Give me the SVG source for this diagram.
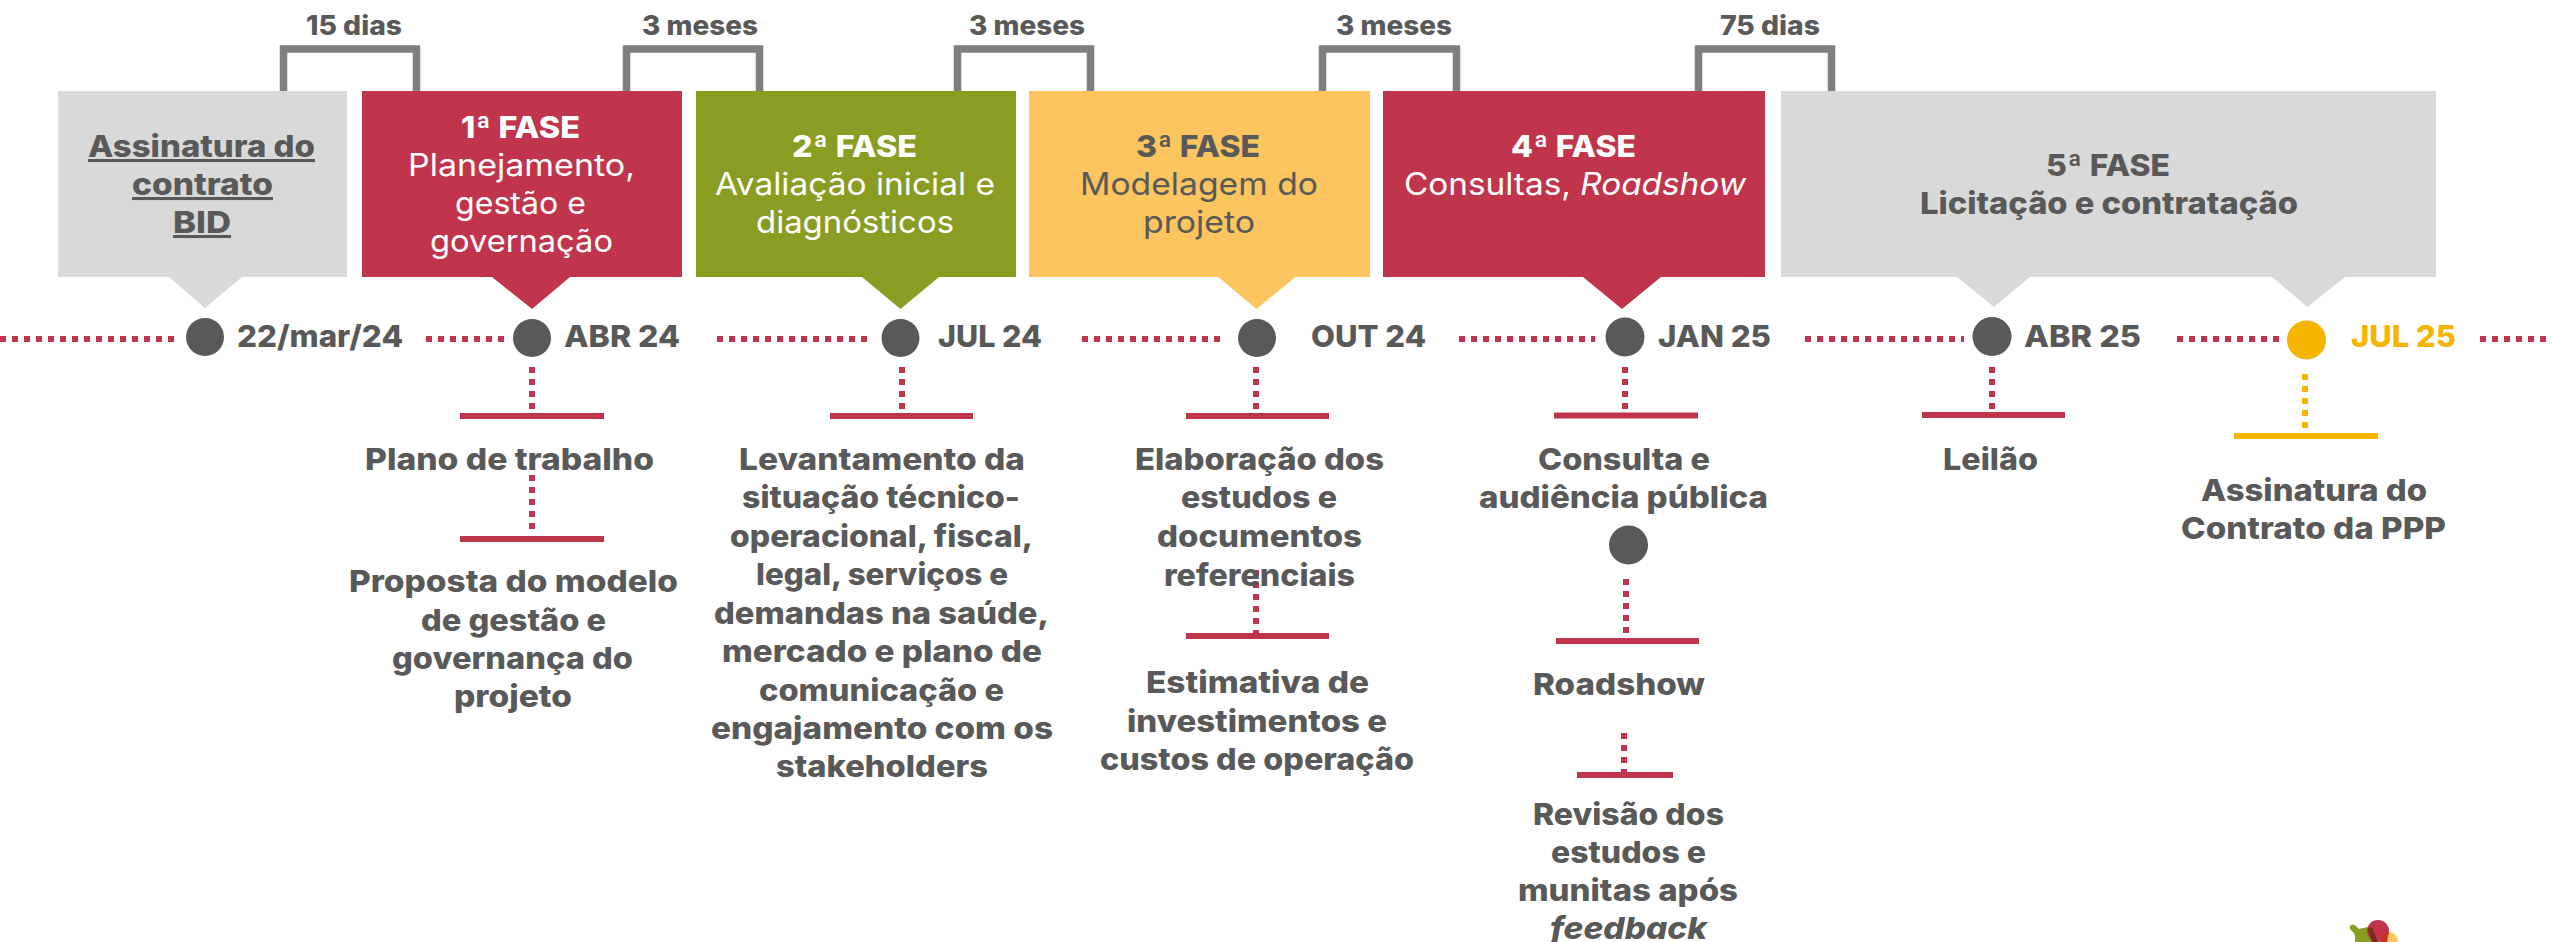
<svg xmlns="http://www.w3.org/2000/svg" width="2552" height="942" viewBox="0 0 2552 942">
<style>
text{font-family:"Inter","Liberation Sans",sans-serif;font-weight:800;fill:#595959;font-size:30.500px;text-anchor:middle}
.t{font-size:27px}
.r{font-weight:400;font-size:31px}
.w{fill:#fff}
.u{text-decoration:underline}
.y{fill:#f4b400}
.i{font-style:italic}
.br{fill:none;stroke:#7f7f7f;stroke-width:7.500}
.dot{fill:none;stroke:#c1354c;stroke-width:6;stroke-dasharray:6 6}
.doty{fill:none;stroke:#f4b400;stroke-width:6;stroke-dasharray:6 6}
.tee{fill:none;stroke:#c1354c;stroke-width:6}
.teey{fill:none;stroke:#f4b400;stroke-width:6}
.c{fill:#595959}
</style>
<g id="connectors">
<path class="br" d="M283.500 91V49H416.500V91"/>
<path class="br" d="M626.500 91V49H759.500V91"/>
<path class="br" d="M957.500 91V49H1090.500V91"/>
<path class="br" d="M1322.500 91V49H1456.500V91"/>
<path class="br" d="M1698.500 91V49H1831.500V91"/>
<path class="dot" d="M0 339H177"/>
<path class="dot" d="M426 339H504"/>
<path class="dot" d="M717 339H870"/>
<path class="dot" d="M1082 339H1223"/>
<path class="dot" d="M1459 339H1595"/>
<path class="dot" d="M1805 339H1964"/>
<path class="dot" d="M2177 339H2279"/>
<path class="dot" d="M2480 339H2552"/>
<path class="dot" d="M532 367V412"/><path class="tee" d="M460 416H604"/>
<path class="dot" d="M532 475V532"/><path class="tee" d="M460 539H604"/>
<path class="dot" d="M902 367V412"/><path class="tee" d="M830 416H973"/>
<path class="dot" d="M1256 367V410"/><path class="tee" d="M1186 416H1329"/>
<path class="dot" d="M1256 570V633"/><path class="tee" d="M1186 636H1329"/>
<path class="dot" d="M1625 367V412"/><path class="tee" d="M1554 415.500H1698"/>
<path class="dot" d="M1626 579V636"/><path class="tee" d="M1556 641H1699"/>
<path class="dot" d="M1624 733V775"/><path class="tee" d="M1577 775H1673"/>
<path class="dot" d="M1992 367V410"/><path class="tee" d="M1922 415H2065"/>
<path class="doty" d="M2305 374V430"/><path class="teey" d="M2234 436H2378"/>
</g>
<g id="label-15-dias"><text class="t" x="354" y="35" textLength="96" lengthAdjust="spacingAndGlyphs">15 dias</text></g>
<g id="label-3-meses-1"><text class="t" x="700" y="35" textLength="116" lengthAdjust="spacingAndGlyphs">3 meses</text></g>
<g id="label-3-meses-2"><text class="t" x="1027" y="35" textLength="116" lengthAdjust="spacingAndGlyphs">3 meses</text></g>
<g id="label-3-meses-3"><text class="t" x="1394" y="35" textLength="116" lengthAdjust="spacingAndGlyphs">3 meses</text></g>
<g id="label-75-dias"><text class="t" x="1770" y="35" textLength="100" lengthAdjust="spacingAndGlyphs">75 dias</text></g>

<g id="box-assinatura">
<path fill="#d9d9d9" d="M58 91H347V277H242L205 308L169 277H58Z"/>
<text class="u" x="201.500" y="157" textLength="227" lengthAdjust="spacingAndGlyphs">Assinatura do</text>
<text class="u" x="202.500" y="195" textLength="141" lengthAdjust="spacingAndGlyphs">contrato</text>
<text class="u" x="202" y="233" textLength="58" lengthAdjust="spacingAndGlyphs">BID</text>
</g>
<g id="box-fase1">
<path fill="#c1354c" d="M362 91H682V277H570L532 309L492 277H362Z"/>
<text class="w" x="520.500" y="138" textLength="119" lengthAdjust="spacingAndGlyphs">1ª FASE</text>
<text class="r w" x="521.500" y="176" textLength="227" lengthAdjust="spacingAndGlyphs">Planejamento,</text>
<text class="r w" x="520.500" y="214" textLength="131" lengthAdjust="spacingAndGlyphs">gestão e</text>
<text class="r w" x="521.500" y="252" textLength="183" lengthAdjust="spacingAndGlyphs">governação</text>
</g>
<g id="box-fase2">
<path fill="#8a9c22" d="M696 91H1016V277H939L900.500 309L862 277H696Z"/>
<text class="w" x="854.500" y="157" textLength="125" lengthAdjust="spacingAndGlyphs">2ª FASE</text>
<text class="r w" x="855" y="195" textLength="280" lengthAdjust="spacingAndGlyphs">Avaliação inicial e</text>
<text class="r w" x="855" y="233" textLength="198" lengthAdjust="spacingAndGlyphs">diagnósticos</text>
</g>
<g id="box-fase3">
<path fill="#fcc55f" d="M1029 91H1370V277H1295.500L1256.500 309L1218 277H1029Z"/>
<text x="1198" y="157" textLength="124" lengthAdjust="spacingAndGlyphs">3ª FASE</text>
<text class="r" x="1199" y="195" textLength="238" lengthAdjust="spacingAndGlyphs">Modelagem do</text>
<text class="r" x="1199" y="233" textLength="112" lengthAdjust="spacingAndGlyphs">projeto</text>
</g>
<g id="box-fase4">
<path fill="#c1354c" d="M1383 91H1765V277H1661L1622 309L1583 277H1383Z"/>
<text class="w" x="1573.500" y="157" textLength="125" lengthAdjust="spacingAndGlyphs">4ª FASE</text>
<text class="r w" x="1575" y="195" textLength="342" lengthAdjust="spacingAndGlyphs">Consultas, <tspan class="i">Roadshow</tspan></text>
</g>
<g id="box-fase5">
<path fill="#d9d9d9" d="M1781 91H2436V277H2345L2307.500 307L2272 277H2030L1994 307L1957 277H1781Z"/>
<text x="2108" y="176" textLength="124" lengthAdjust="spacingAndGlyphs">5ª FASE</text>
<text x="2109" y="214" textLength="378" lengthAdjust="spacingAndGlyphs">Licitação e contratação</text>
</g>

<g id="date-22mar24"><circle class="c" cx="205" cy="337" r="19"/><text x="320" y="347" textLength="166" lengthAdjust="spacingAndGlyphs">22/mar/24</text></g>
<g id="date-abr24"><circle class="c" cx="532" cy="338" r="19"/><text x="622" y="347" textLength="116" lengthAdjust="spacingAndGlyphs">ABR 24</text></g>
<g id="date-jul24"><circle class="c" cx="900.500" cy="338" r="19"/><text x="990" y="347" textLength="104" lengthAdjust="spacingAndGlyphs">JUL 24</text></g>
<g id="date-out24"><circle class="c" cx="1257" cy="338" r="19"/><text x="1368.500" y="347" textLength="115" lengthAdjust="spacingAndGlyphs">OUT 24</text></g>
<g id="date-jan25"><circle class="c" cx="1625" cy="337" r="19.500"/><text x="1714.500" y="347" textLength="113" lengthAdjust="spacingAndGlyphs">JAN 25</text></g>
<g id="date-abr25"><circle class="c" cx="1992" cy="336.500" r="19.500"/><text x="2082.500" y="347" textLength="117" lengthAdjust="spacingAndGlyphs">ABR 25</text></g>
<g id="date-jul25"><circle fill="#f4b400" cx="2306.500" cy="340" r="19.500"/><text class="y" x="2403.500" y="347" textLength="105" lengthAdjust="spacingAndGlyphs">JUL 25</text></g>

<g id="item-plano"><text x="509.500" y="470" textLength="289" lengthAdjust="spacingAndGlyphs">Plano de trabalho</text></g>
<g id="item-proposta">
<text x="513.500" y="592" textLength="329" lengthAdjust="spacingAndGlyphs">Proposta do modelo</text>
<text x="513.500" y="631" textLength="185" lengthAdjust="spacingAndGlyphs">de gestão e</text>
<text x="512.500" y="669" textLength="241" lengthAdjust="spacingAndGlyphs">governança do</text>
<text x="513" y="707" textLength="118" lengthAdjust="spacingAndGlyphs">projeto</text>
</g>
<g id="item-levantamento">
<text x="882" y="470" textLength="286" lengthAdjust="spacingAndGlyphs">Levantamento da</text>
<text x="881" y="508" textLength="278" lengthAdjust="spacingAndGlyphs">situação técnico-</text>
<text x="881.500" y="547" textLength="303" lengthAdjust="spacingAndGlyphs">operacional, fiscal,</text>
<text x="882" y="585" textLength="252" lengthAdjust="spacingAndGlyphs">legal, serviços e</text>
<text x="881.500" y="623.500" textLength="335" lengthAdjust="spacingAndGlyphs">demandas na saúde,</text>
<text x="882" y="662" textLength="320" lengthAdjust="spacingAndGlyphs">mercado e plano de</text>
<text x="881.500" y="700.500" textLength="245" lengthAdjust="spacingAndGlyphs">comunicação e</text>
<text x="882" y="739" textLength="342" lengthAdjust="spacingAndGlyphs">engajamento com os</text>
<text x="882" y="777" textLength="212" lengthAdjust="spacingAndGlyphs">stakeholders</text>
</g>
<g id="item-elaboracao">
<text x="1259.500" y="470" textLength="249" lengthAdjust="spacingAndGlyphs">Elaboração dos</text>
<text x="1259" y="508" textLength="156" lengthAdjust="spacingAndGlyphs">estudos e</text>
<text x="1259.500" y="547" textLength="205" lengthAdjust="spacingAndGlyphs">documentos</text>
<text x="1259.500" y="586" textLength="191" lengthAdjust="spacingAndGlyphs">referenciais</text>
</g>
<g id="item-estimativa">
<text x="1257.500" y="693" textLength="223" lengthAdjust="spacingAndGlyphs">Estimativa de</text>
<text x="1257" y="732" textLength="260" lengthAdjust="spacingAndGlyphs">investimentos e</text>
<text x="1257" y="770" textLength="314" lengthAdjust="spacingAndGlyphs">custos de operação</text>
</g>
<g id="item-consulta">
<text x="1624" y="470" textLength="172" lengthAdjust="spacingAndGlyphs">Consulta e</text>
<text x="1623.500" y="508" textLength="289" lengthAdjust="spacingAndGlyphs">audiência pública</text>
</g>
<g id="marker-roadshow"><circle class="c" cx="1628.500" cy="545" r="19.500"/></g>
<g id="item-roadshow"><text x="1619" y="694.500" textLength="172" lengthAdjust="spacingAndGlyphs">Roadshow</text></g>
<g id="item-revisao">
<text x="1628.500" y="824.500" textLength="191" lengthAdjust="spacingAndGlyphs">Revisão dos</text>
<text x="1628.500" y="862.500" textLength="155" lengthAdjust="spacingAndGlyphs">estudos e</text>
<text x="1628" y="900.500" textLength="220" lengthAdjust="spacingAndGlyphs">munitas após</text>
<text class="i" x="1628.500" y="938.500" textLength="157" lengthAdjust="spacingAndGlyphs">feedback</text>
</g>
<g id="item-leilao"><text x="1990.500" y="470" textLength="95" lengthAdjust="spacingAndGlyphs">Leilão</text></g>
<g id="item-assinatura-ppp">
<text x="2314" y="501" textLength="226" lengthAdjust="spacingAndGlyphs">Assinatura do</text>
<text x="2313.500" y="539" textLength="265" lengthAdjust="spacingAndGlyphs">Contrato da PPP</text>
</g>
<g id="logo">
<path fill="#8a9c22" d="M2350 926Q2352 923 2356 926L2359 929L2368 927L2374 942H2355Q2356 934 2352 931Q2349 929 2350 926Z"/>
<circle fill="#fcc55f" cx="2389" cy="941" r="9"/>
<circle fill="#c1354c" cx="2378" cy="931" r="11"/>
<path fill="#7a2a1c" d="M2367.500 929L2372 927L2378 942H2372Z"/>
<path fill="#c9301f" d="M2381 942Q2380 933 2386 931Q2389 936 2387 942Z"/>
</g>
</svg>
